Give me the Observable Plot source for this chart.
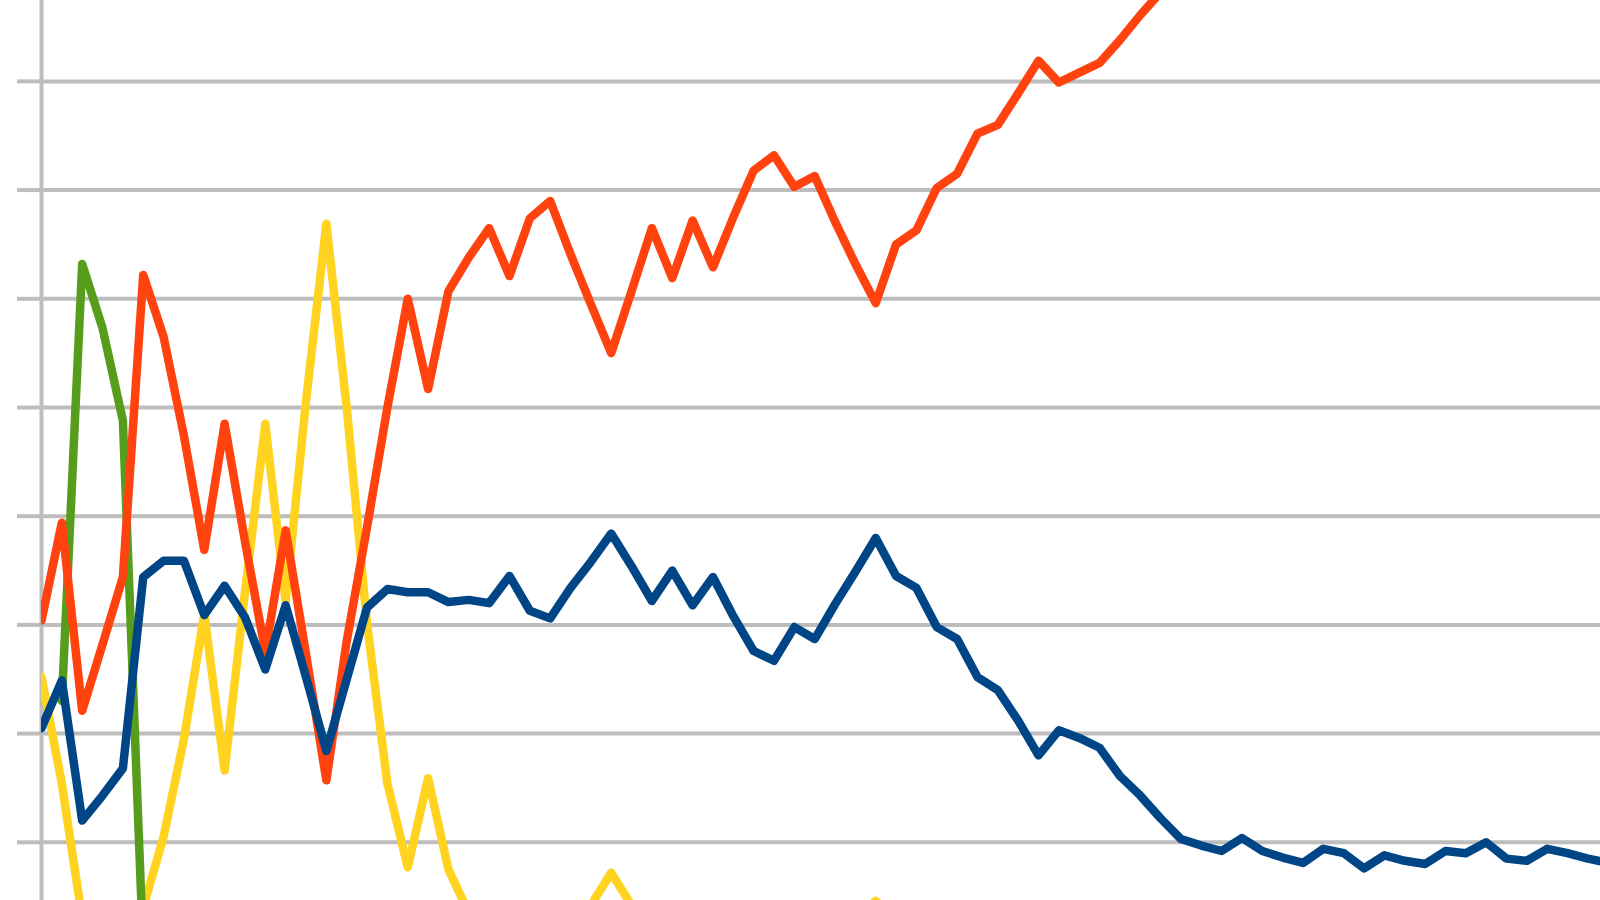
<!DOCTYPE html>
<html><head><meta charset="utf-8">
<script src="https://cdn.jsdelivr.net/npm/d3@7"></script>
<script src="https://cdn.jsdelivr.net/npm/@observablehq/plot@0.6"></script>
<style>html,body{margin:0;padding:0;background:#fff;overflow:hidden}</style>
</head><body><div id="chart"></div>
<script>
// Series (index = position along the x axis)
const seriesNames = ["Series 4", "Series 3", "Series 2", "Series 1"];
const seriesColors = ["#ffd320", "#579d1c", "#ff420e", "#004586"];

const series4Values = [
  2.52, 1.54, 0.30, 0.05, 0.05, 0.40, 1.05, 1.95, 3.10, 1.66,
  3.30, 4.85, 3.22, 5.06, 6.69, 5.00, 3.01, 1.54, 0.77, 1.59,
  0.75, 0.35, 0.20, 0.20, 0.20, 0.20, 0.20, 0.42, 0.72, 0.42,
  0.20, 0.20, 0.20, 0.20, 0.20, 0.20, 0.20, 0.20, 0.20, 0.30,
  0.30, 0.46, 0.30, 0.20, 0.20, 0.20, 0.20, 0.20, 0.20, 0.20
];
const series3Values = [null, 2.30, 6.32, 5.73, 4.88, 0.00];
const series2Values = [
  3.04, 3.94, 2.21, 2.82, 3.44, 6.22, 5.65, 4.74, 3.69, 4.85,
  3.77, 2.75, 3.87, 2.73, 1.57, 2.85, 3.90, 5.00, 6.00, 5.17,
  6.07, 6.38, 6.65, 6.21, 6.74, 6.90, 6.41, 5.95, 5.50, 6.07,
  6.65, 6.19, 6.72, 6.29, 6.75, 7.18, 7.32, 7.03, 7.13, 6.71,
  6.32, 5.96, 6.50, 6.63, 7.02, 7.15, 7.52, 7.60, 7.89, 8.19,
  7.99, 8.08, 8.17, 8.38, 8.61, 8.82, 9.05
];
const series1Values = [
  2.05, 2.49, 1.20, 1.43, 1.68, 3.44, 3.59, 3.59, 3.09, 3.36,
  3.07, 2.59, 3.18, 2.52, 1.84, 2.50, 3.16, 3.33, 3.30, 3.30,
  3.21, 3.23, 3.20, 3.45, 3.13, 3.06, 3.34, 3.58, 3.84, 3.54,
  3.22, 3.50, 3.18, 3.44, 3.08, 2.76, 2.67, 2.98, 2.87, 3.19,
  3.49, 3.80, 3.45, 3.34, 2.98, 2.87, 2.52, 2.40, 2.12, 1.80,
  2.03, 1.96, 1.87, 1.61, 1.43, 1.22, 1.03, 0.97, 0.92, 1.04,
  0.92, 0.86, 0.81, 0.94, 0.90, 0.76, 0.88, 0.83, 0.80, 0.92,
  0.90, 1.00, 0.85, 0.83, 0.94, 0.90, 0.85, 0.81
];
const yTicks = [1, 2, 3, 4, 5, 6, 7, 8];

const seriesValues = [series4Values, series3Values, series2Values, series1Values];
const rows = [];
seriesNames.forEach((name, k) => {
  seriesValues[k].forEach((v, i) => { if (v != null) rows.push({i, v, s: name}); });
});

const gridColor = "#bdbdbd";
const chart = Plot.plot({
  width: 1600, height: 900,
  marginLeft: 41, marginRight: 0, marginTop: 0, marginBottom: 0,
  x: {domain: [0, 76.62], axis: null},
  y: {domain: [0.4646, 8.7442], axis: null},
  color: {domain: seriesNames, range: seriesColors},
  marks: [
    Plot.gridY(yTicks, {stroke: gridColor, strokeOpacity: 1, strokeWidth: 4}),
    Plot.axisY(yTicks, {tickSize: 24, tickFormat: () => "", label: null, stroke: gridColor, strokeWidth: 4}),
    Plot.ruleX([0], {stroke: gridColor, strokeWidth: 4}),
    Plot.line(rows, {x: "i", y: "v", z: "s", stroke: "s", strokeWidth: 8.5,
      strokeLinejoin: "round", strokeLinecap: "round", clip: true})
  ]
});
document.getElementById("chart").appendChild(chart);
</script>
</body></html>
